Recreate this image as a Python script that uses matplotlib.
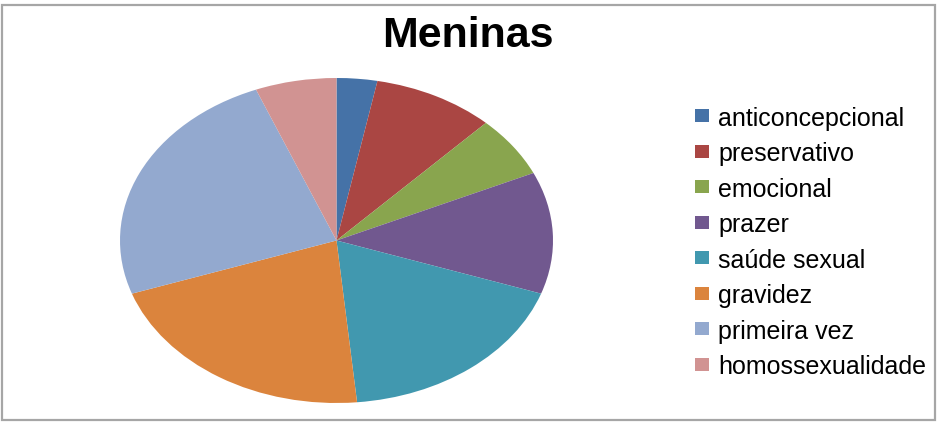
import matplotlib
matplotlib.use("Agg")
import matplotlib.pyplot as plt
from matplotlib.patches import Rectangle, Patch

categories = ["anticoncepcional", "preservativo", "emocional", "prazer",
              "saúde sexual", "gravidez", "primeira vez", "homossexualidade"]
values = [1, 3, 2, 4, 6, 7, 8, 2]
colors = ["#4572A7", "#AA4643", "#89A54E", "#71588F",
          "#4198AF", "#DB843D", "#93A9CF", "#D19392"]
title = "Meninas"

plt.rcParams['font.family'] = ['Liberation Sans', 'DejaVu Sans']

W, H = 938, 427
fig = plt.figure(figsize=(W / 100, H / 100), dpi=100)

# outer border
fig.patches.append(Rectangle((2 / W, 6 / H), 933 / W, 415 / H, transform=fig.transFigure,
                             fill=False, edgecolor="#A6A6A6", linewidth=1.6))

ax = fig.add_axes([120 / W, (H - 404) / H, 433 / W, 325 / H])
wedges, _ = ax.pie(values, colors=colors, startangle=90, counterclock=False,
                   wedgeprops=dict(linewidth=0))
ax.set_aspect('auto')
ax.set_xlim(-1, 1)
ax.set_ylim(-1, 1)
ax.axis('off')

fig.text(468 / W, (H - 47) / H, title, ha='center', va='baseline',
         fontsize=31, fontweight='bold')

handles = [Patch(facecolor=c, edgecolor='none') for c in colors]
fig.legend(handles, categories, loc='center left',
           bbox_to_anchor=(695 / W, (H - 243) / H), frameon=False,
           fontsize=18, handlelength=0.56, handleheight=0.44,
           handletextpad=0.36, labelspacing=0.46, borderpad=0, borderaxespad=0)

fig.savefig("out.png", dpi=100)
